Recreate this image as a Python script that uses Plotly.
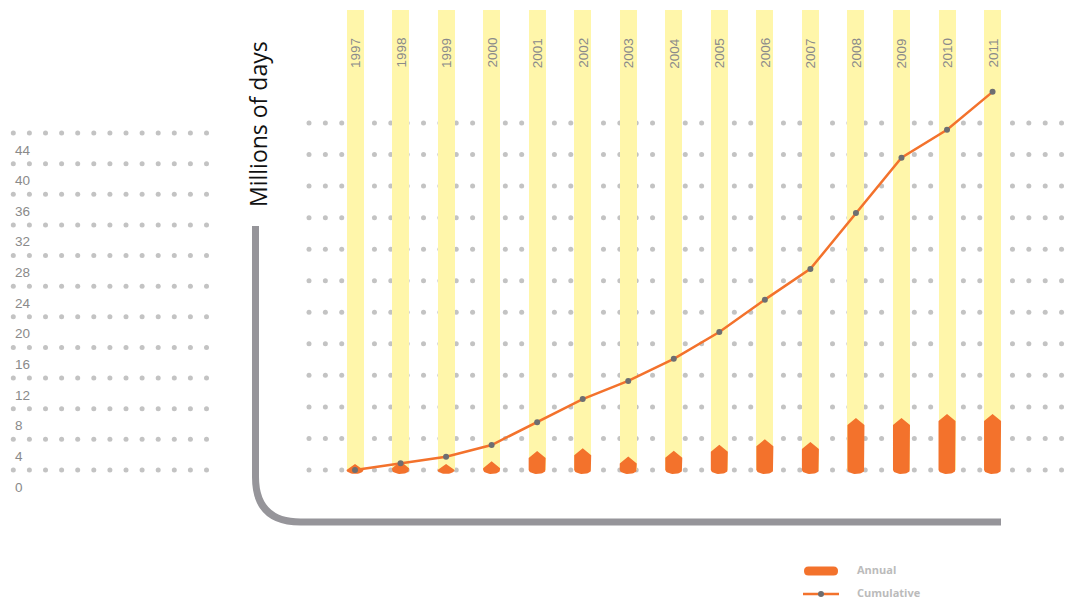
import numpy as np
import plotly.graph_objects as go

# ---------------- data ----------------
years = [1997, 1998, 1999, 2000, 2001, 2002, 2003, 2004, 2005, 2006, 2007, 2008, 2009, 2010, 2011]
annual = [0.76, 1.1, 0.76, 1.1, 2.4, 2.75, 1.7, 2.45, 3.2, 3.9, 3.55, 6.6, 6.6, 7.1, 7.1]
cumulative = [0.0, 0.85, 1.69, 3.17, 6.05, 9.0, 11.3, 14.1, 17.5, 21.6, 25.5, 32.6, 39.6, 43.15, 47.95]
tick_values = [0, 4, 8, 12, 16, 20, 24, 28, 32, 36, 40, 44]
tick_labels = [str(v) for v in tick_values]
y_title = "Millions of days"
legend_names = ["Annual", "Cumulative"]

# ---------------- style ----------------
W, H = 1081, 603
ORANGE = "#f3722c"
YELLOW = "#fff6aa"
DOT = "#c3c3c3"
MARK = "#6d6e71"
FRAME = "#96959a"
LABEL = "#8a8a8a"
LEG = "#bbbbbb"

PX_PER_YEAR = 45.54
X0 = 1997 - 355 / PX_PER_YEAR
X1 = X0 + W / PX_PER_YEAR
PX_PER_UNIT = 347 / 44.0          # main y scale (0 at 470px, 44 at 123px)
Y_TOP = 470 / PX_PER_UNIT
Y_BOT = -(H - 470) / PX_PER_UNIT
LEFT_PX_PER_UNIT = 337 / 44.0     # left decorative scale (0 at 470px, 44 at 133px)
LY_TOP = 470 / LEFT_PX_PER_UNIT
LY_BOT = -(H - 470) / LEFT_PX_PER_UNIT

COL_W = 17 / PX_PER_YEAR
COL_TOP = (470 - 10) / PX_PER_UNIT
TIP = 7 / PX_PER_UNIT
DEPTH = 4 / PX_PER_UNIT


def px(x):
    return x / W


def py(y):
    return 1 - y / H


fig = go.Figure()

# main dotted grid (under the yellow columns)
dot_x = [1995.99 + k * (16.36 / PX_PER_YEAR) for k in range(47)]
gx, gy = [], []
for v in tick_values:
    gx += dot_x
    gy += [v] * len(dot_x)
fig.add_trace(go.Scatter(x=gx, y=gy, mode="markers", xaxis="x", yaxis="y",
                         marker=dict(color=DOT, size=5), hoverinfo="skip"))

# yellow columns
fig.add_trace(go.Bar(x=years, y=[COL_TOP] * len(years), width=COL_W, xaxis="x", yaxis="y2",
                     marker=dict(color=YELLOW, line=dict(width=0)), hoverinfo="skip"))

# annual shapes (pointed top, rounded bottom)
ax, ay = [], []
half = COL_W / 2
t = np.linspace(0, np.pi, 21)
for yr, v in zip(years, annual):
    sh = max(v - TIP, 0)
    xs = [yr - half, yr, yr + half, yr + half] + list(yr + half * np.cos(t)) + [yr - half, yr - half]
    ys = [sh, v, sh, 0] + list(-DEPTH * np.sin(t)) + [0, sh]
    ax += xs + [None]
    ay += ys + [None]
fig.add_trace(go.Scatter(x=ax, y=ay, mode="lines", fill="toself", fillcolor=ORANGE,
                         line=dict(width=0, color=ORANGE), xaxis="x", yaxis="y2",
                         hoverinfo="skip", name=legend_names[0]))

# cumulative line
fig.add_trace(go.Scatter(x=years, y=cumulative, mode="lines+markers", xaxis="x", yaxis="y2",
                         line=dict(color=ORANGE, width=2.5),
                         marker=dict(color=MARK, size=6), name=legend_names[1]))

# left decorative panel
left_x = [13.3 + k * 16.1 for k in range(13)]
lx, ly = [], []
for v in tick_values:
    lx += left_x
    ly += [v] * len(left_x)
fig.add_trace(go.Scatter(x=lx, y=ly, mode="markers", xaxis="x2", yaxis="y3",
                         marker=dict(color=DOT, size=5), hoverinfo="skip"))

annotations = []
for v, lab in zip(tick_values, tick_labels):
    annotations.append(dict(x=13, y=v, xref="x2", yref="y3", text=lab, showarrow=False,
                            xanchor="left", yanchor="middle", yshift=-17,
                            font=dict(family="Liberation Sans, Arial", size=13.5, color=LABEL)))

for yr in years:
    annotations.append(dict(x=yr, y=py(53), xref="x", yref="paper", text=str(yr), showarrow=False,
                            textangle=-90, xanchor="center", yanchor="middle",
                            font=dict(family="Liberation Sans, Arial", size=13.5, color=LABEL)))

annotations.append(dict(x=px(258), y=py(124), xref="paper", yref="paper", text=y_title,
                        showarrow=False, textangle=-90, xanchor="center", yanchor="middle",
                        font=dict(family="Open Sans", size=23, color="#111111")))

annotations.append(dict(x=px(855), y=py(569), xref="paper", yref="paper", text="<b>%s</b>" % legend_names[0],
                        showarrow=False, xanchor="left", yanchor="middle",
                        font=dict(family="Open Sans", size=11, color=LEG)))
annotations.append(dict(x=px(855), y=py(592), xref="paper", yref="paper", text="<b>%s</b>" % legend_names[1],
                        showarrow=False, xanchor="left", yanchor="middle",
                        font=dict(family="Open Sans", size=11, color=LEG)))

shapes = []
# L-shaped frame with rounded corner
path = "M {a},{b} L {a},{c} Q {a},{d} {e},{d} L {f},{d}".format(
    a=px(255.5), b=py(226), c=py(477), d=py(522), e=px(300.5), f=px(1001))
shapes.append(dict(type="path", path=path, xref="paper", yref="paper",
                   line=dict(color=FRAME, width=7)))

# legend pill
pill = ("M {x1},{t} L {x2},{t} Q {r},{t} {r},{m} Q {r},{b} {x2},{b} L {x1},{b} "
        "Q {l},{b} {l},{m} Q {l},{t} {x1},{t} Z").format(
    x1=px(808.5), x2=px(833.5), l=px(804), r=px(838), t=py(566.5), b=py(575.5), m=py(571))
shapes.append(dict(type="path", path=pill, xref="paper", yref="paper",
                   fillcolor=ORANGE, line=dict(width=0)))
shapes.append(dict(type="line", x0=px(803), x1=px(839), y0=py(594), y1=py(594),
                   xref="paper", yref="paper", line=dict(color=ORANGE, width=2.5)))
shapes.append(dict(type="circle", x0=px(818), x1=px(824), y0=py(591), y1=py(597),
                   xref="paper", yref="paper", fillcolor=MARK, line=dict(width=0)))

fig.update_layout(
    width=W, height=H, autosize=False,
    margin=dict(l=0, r=0, t=0, b=0, pad=0),
    paper_bgcolor="white", plot_bgcolor="white",
    showlegend=False, bargap=0,
    xaxis=dict(range=[X0, X1], visible=False, fixedrange=True),
    xaxis2=dict(range=[0, W], visible=False, overlaying="x", fixedrange=True),
    yaxis=dict(range=[Y_BOT, Y_TOP], visible=False, fixedrange=True),
    yaxis2=dict(range=[Y_BOT, Y_TOP], visible=False, overlaying="y", fixedrange=True),
    yaxis3=dict(range=[LY_BOT, LY_TOP], visible=False, overlaying="y", fixedrange=True),
    annotations=annotations, shapes=shapes,
)

fig.write_html("out.html", config={"displayModeBar": False},
               post_script="document.body.style.margin='0';document.body.style.overflow='hidden';")
